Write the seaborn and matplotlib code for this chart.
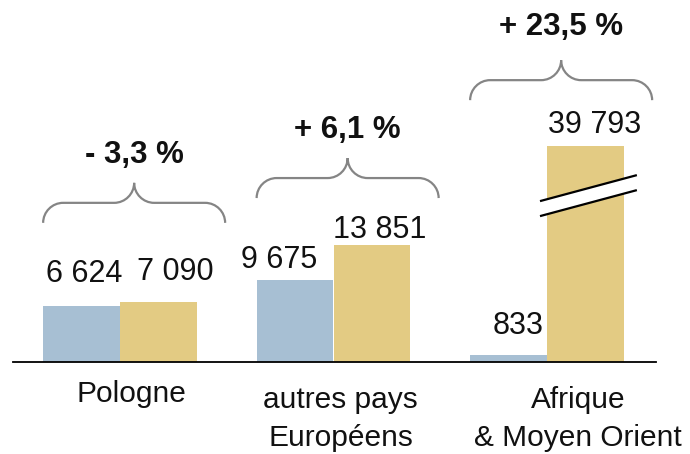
import matplotlib
matplotlib.use("Agg")
import matplotlib.pyplot as plt
from matplotlib.path import Path
from matplotlib.patches import PathPatch, Polygon
import pandas as pd
import seaborn as sns

# data
regions = ["Pologne", "autres pays\nEuropéens", "Afrique\n& Moyen Orient"]
before = [6624, 9675, 833]
after = [7090, 13851, 39793]
changes = ["- 3,3 %", "+ 6,1 %", "+ 23,5 %"]

# the tallest bar is cut (broken axis), this is the height it is drawn at
cap = 25700

blue = "#a7bfd3"
gold = "#e3cb83"

df = pd.DataFrame({
    "region": regions * 2,
    "period": ["avant"] * 3 + ["après"] * 3,
    "value": before + after,
})
df["shown"] = df["value"].clip(upper=cap)

sns.set_theme(style="white")
plt.rcParams["font.family"] = ["Liberation Sans", "DejaVu Sans"]

# layout in pixels
W, H = 690, 454
left_px, right_px, base_px = 13, 656, 361.5
first_px, step_px = 120, 213.5      # centre of first group, distance between groups
units_per_px = 119                  # value units per pixel

fig = plt.figure(figsize=(W / 100, H / 100), dpi=100)
ax = fig.add_axes([left_px / W, (H - base_px) / H, (right_px - left_px) / W, base_px / H])

sns.barplot(data=df, x="region", y="shown", hue="period", palette=[blue, gold],
            width=0.72, saturation=1, errorbar=None, legend=False, linewidth=0, ax=ax)

ax.set_xlim((left_px - first_px) / step_px, (right_px - first_px) / step_px)
ax.set_ylim(0, base_px * units_per_px)
ux = 1 / step_px
uy = units_per_px

for s in ["top", "left", "right"]:
    ax.spines[s].set_visible(False)
ax.spines["bottom"].set_color("black")
ax.spines["bottom"].set_linewidth(1.3)
ax.set_xticks([])
ax.set_yticks([])
ax.set_xlabel("")
ax.set_ylabel("")

fmt = lambda v: f"{v:,}".replace(",", " ")

# value labels, pixel offsets from the top centre of each bar
label_dx = [[3, 17], [-16, 8], [10, 9]]
label_dy = [[24, 22], [12, 7], [21, 13]]
for i in range(len(regions)):
    for j, vals in enumerate([before, after]):
        v = vals[i]
        xc = i - 0.18 + 0.36 * j
        ax.annotate(fmt(v), xy=(xc, min(v, cap)), xytext=(label_dx[i][j], label_dy[i][j]),
                    textcoords="offset pixels", ha="center", va="baseline",
                    fontsize=22, color="#111111", annotation_clip=False)

# curly braces above each group with the change
brace_base = [16500, 19450, 31100]
brace_w, h, r = 182, 20, 20
text_gap = [20, 20, 25]
for i in range(len(regions)):
    x0 = i - 0.36
    yb = brace_base[i]
    c = brace_w / 2
    pts = [(0, 0), (0, 0.55 * h), (0.45 * r, h), (r, h),
           (c - r, h),
           (c - 0.45 * r, h), (c, 1.45 * h), (c, 2 * h),
           (c, 1.45 * h), (c + 0.45 * r, h), (c + r, h),
           (brace_w - r, h),
           (brace_w - 0.45 * r, h), (brace_w, 0.55 * h), (brace_w, 0)]
    codes = [Path.MOVETO, Path.CURVE4, Path.CURVE4, Path.CURVE4, Path.LINETO,
             Path.CURVE4, Path.CURVE4, Path.CURVE4,
             Path.CURVE4, Path.CURVE4, Path.CURVE4, Path.LINETO,
             Path.CURVE4, Path.CURVE4, Path.CURVE4]
    verts = [(x0 + px * ux, yb + py * uy) for px, py in pts]
    ax.add_patch(PathPatch(Path(verts, codes), fill=False, edgecolor="#858585",
                           linewidth=1.6, clip_on=False))
    ax.text(x0 + c * ux, yb + (2 * h + text_gap[i]) * uy, changes[i],
            ha="center", va="baseline", fontsize=22.5, fontweight="bold", color="#111111")

# break marks on the cut bar
k = 2
bx0 = k - 7 * ux
bx1 = k + 0.36 + 13 * ux
y_low0, rise, gap = 17300, 26 * uy, 15 * uy
ax.add_patch(Polygon([(bx0, y_low0), (bx1, y_low0 + rise), (bx1, y_low0 + rise + gap),
                      (bx0, y_low0 + gap)], closed=True, facecolor="white",
                     edgecolor="none", zorder=3))
for off in [0, gap]:
    ax.plot([bx0, bx1], [y_low0 + off, y_low0 + rise + off], color="black",
            linewidth=1.6, zorder=4, solid_capstyle="butt")

# category names
name_dx = [11, 7, 31]
name_dy = [-19, -24.5, -24.5]
for i, name in enumerate(regions):
    ax.annotate(name, xy=(i, 0), xytext=(name_dx[i], name_dy[i]), textcoords="offset pixels",
                ha="center", va="top", fontsize=21.5, color="#111111",
                linespacing=1.45, annotation_clip=False)

fig.savefig("out.png", dpi=100)
